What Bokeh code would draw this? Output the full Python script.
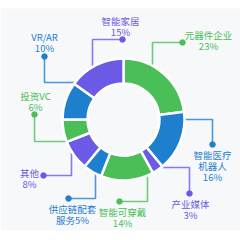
import math
from bokeh.plotting import figure
from bokeh.models import ColumnDataSource, Range1d, BoxAnnotation
from bokeh.core.properties import value
from bokeh.embed import file_html
from bokeh.resources import INLINE

# ---- data ----
categories = ["元器件企业", "智能医疗机器人", "产业媒体", "智能可穿戴", "供应链配套服务",
              "其他", "投资VC", "VR/AR", "智能家居"]
shares = [23, 16, 3, 14, 5, 8, 6, 10, 15]
label_lines = [["元器件企业", "23%"], ["智能医疗", "机器人", "16%"], ["产业媒体", "3%"],
               ["智能可穿戴", "14%"], ["供应链配套", "服务5%"], ["其他", "8%"],
               ["投资VC", "6%"], ["VR/AR", "10%"], ["智能家居", "15%"]]

GREEN, BLUE, PURPLE = "#4bbf57", "#1f7fcf", "#6a5ae6"
colors = [GREEN, BLUE, PURPLE, GREEN, BLUE, PURPLE, GREEN, BLUE, PURPLE]

# ---- layout (pixel positions, y from top) ----
W = H = 240
CX, CY = 123, 119
R_IN, R_OUT = 36, 61
label_pos = [(208, 34), (212, 154), (190, 203), (122, 211), (72, 208),
             (29, 172), (35, 95), (44, 36), (120, 20)]
line_gap = 11
leaders = [
    [(182, 42), (152, 42), (152, 68)],
    [(212, 144), (212, 119), (180, 119)],
    [(189, 193), (189, 167), (155, 167)],
    [(119, 201), (147, 201), (147, 168)],
    [(68, 198), (95, 198), (95, 168)],
    [(43, 175), (71, 175), (71, 145)],
    [(34, 114), (34, 141), (70, 141)],
    [(44, 56), (44, 82), (82, 82)],
    [(122, 39), (92, 39), (92, 82)],
]

def Y(py):
    return H - py

p = figure(width=W, height=H, output_backend="svg", toolbar_location=None,
           x_range=Range1d(0, W), y_range=Range1d(0, H), min_border=0)
p.axis.visible = False
p.grid.visible = False
p.outline_line_color = None
p.background_fill_color = "white"
p.border_fill_color = "white"
p.add_layout(BoxAnnotation(left=0, right=W, top=Y(8), bottom=Y(230),
                           fill_color="#f7f8fa", fill_alpha=1, line_alpha=0, level="underlay"))

# leader lines
for pts, c in zip(leaders, colors):
    p.line([q[0] for q in pts], [Y(q[1]) for q in pts], line_color=c, line_width=1.6, line_alpha=0.8)
    p.scatter([pts[0][0]], [Y(pts[0][1])], size=5.5, color=c, line_color=c)

# donut
total = sum(shares)
starts, ends = [], []
cum = 0
for v in shares:
    a0 = math.pi / 2 - 2 * math.pi * cum / total
    cum += v
    a1 = math.pi / 2 - 2 * math.pi * cum / total
    starts.append(a1)
    ends.append(a0)
src = ColumnDataSource(dict(start=starts, end=ends, color=colors, cat=categories, val=shares))
p.annular_wedge(x=CX, y=Y(CY), inner_radius=R_IN, outer_radius=R_OUT,
                start_angle="start", end_angle="end", fill_color="color",
                line_color="white", line_width=2.5, source=src)

# labels
tx, ty, tt, tc = [], [], [], []
for lines, (lx, ly), c in zip(label_lines, label_pos, colors):
    for k, s in enumerate(lines):
        tx.append(lx)
        ty.append(Y(ly + k * line_gap))
        tt.append(s)
        tc.append(c)
p.text(x=tx, y=ty, text=tt, text_color=tc, text_align="center", text_baseline="middle",
       text_font=value("Noto Sans CJK SC"), text_font_size="9.5px")

open("out.html", "w").write(file_html(p, INLINE))
